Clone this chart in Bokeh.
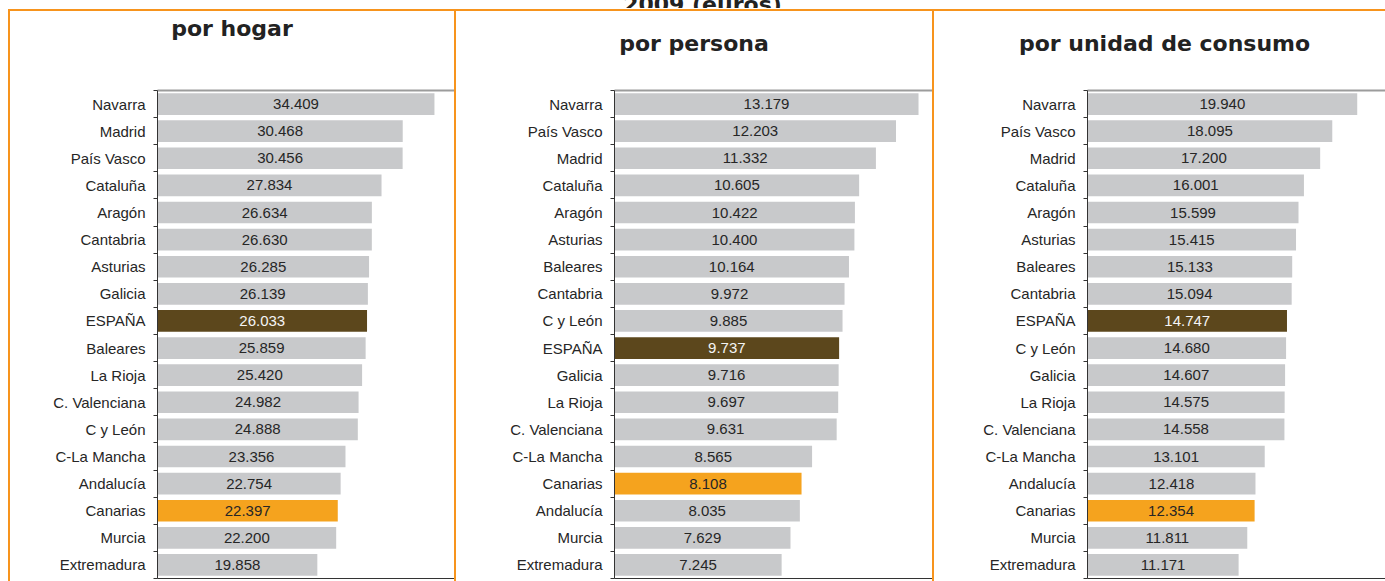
import numpy as np
from bokeh.plotting import figure
from bokeh.models import (ColumnDataSource, LinearAxis, FixedTicker, Range1d,
                          Div, Spacer)
from bokeh.layouts import row, column
from bokeh.embed import file_html
from bokeh.resources import INLINE
from bokeh.core.properties import value

# ---------------- data (top to bottom as in the chart) ----------------
hogar_regions = ["Navarra", "Madrid", "País Vasco", "Cataluña", "Aragón", "Cantabria",
                 "Asturias", "Galicia", "ESPAÑA", "Baleares", "La Rioja", "C. Valenciana",
                 "C y León", "C-La Mancha", "Andalucía", "Canarias", "Murcia", "Extremadura"]
hogar_values = [34409, 30468, 30456, 27834, 26634, 26630, 26285, 26139, 26033, 25859,
                25420, 24982, 24888, 23356, 22754, 22397, 22200, 19858]

persona_regions = ["Navarra", "País Vasco", "Madrid", "Cataluña", "Aragón", "Asturias",
                   "Baleares", "Cantabria", "C y León", "ESPAÑA", "Galicia", "La Rioja",
                   "C. Valenciana", "C-La Mancha", "Canarias", "Andalucía", "Murcia", "Extremadura"]
persona_values = [13179, 12203, 11332, 10605, 10422, 10400, 10164, 9972, 9885, 9737,
                  9716, 9697, 9631, 8565, 8108, 8035, 7629, 7245]

consumo_regions = ["Navarra", "País Vasco", "Madrid", "Cataluña", "Aragón", "Asturias",
                   "Baleares", "Cantabria", "ESPAÑA", "C y León", "Galicia", "La Rioja",
                   "C. Valenciana", "C-La Mancha", "Andalucía", "Canarias", "Murcia", "Extremadura"]
consumo_values = [19940, 18095, 17200, 16001, 15599, 15415, 15133, 15094, 14747, 14680,
                  14607, 14575, 14558, 13101, 12418, 12354, 11811, 11171]

panel_titles = ["por hogar", "por persona", "por unidad de consumo"]
main_title = "2009 (euros)"

GREY = "#C8C9CB"
SPAIN = "#5C471C"
CANARIAS = "#F5A31E"
ORANGE = "#F7941D"
AXIS = "#333333"
TITLE_H = 50


def make_panel(regions, values, width, left, x_end):
    n = len(regions)
    ypos = list(range(n, 0, -1))
    colors = [SPAIN if r == "ESPAÑA" else CANARIAS if r == "Canarias" else GREY for r in regions]
    tcolors = ["#F4F4F4" if r == "ESPAÑA" else "#262626" for r in regions]
    labels = [f"{v:,}".replace(",", ".") for v in values]
    src = ColumnDataSource(dict(y=ypos, v=values, half=[v / 2 for v in values],
                                c=colors, tc=tcolors, lab=labels))
    p = figure(width=width, height=570 - TITLE_H, output_backend="svg", toolbar_location=None,
               x_range=Range1d(0, x_end), y_range=Range1d(0.5, n + 0.5),
               min_border_left=left, min_border_right=0, min_border_top=79 - TITLE_H,
               min_border_bottom=3, x_axis_location=None, y_axis_location=None,
               outline_line_color=None, background_fill_color="white",
               border_fill_color="white", margin=0)
    p.grid.grid_line_color = None
    p.hbar(y="y", left=0, right="v", height=0.8, fill_color="c", line_color=None, source=src)
    p.text(x="half", y="y", text="lab", text_color="tc", text_align="center",
           text_baseline="middle", text_font=value("Liberation Sans"),
           text_font_size="15px", source=src)

    yaxis = LinearAxis(
        ticker=FixedTicker(ticks=ypos, minor_ticks=[k + 0.5 for k in range(n + 1)]),
        major_label_overrides={y: r for y, r in zip(ypos, regions)},
        major_tick_out=0, major_tick_in=0, minor_tick_out=4, minor_tick_in=0,
        minor_tick_line_color=AXIS, axis_line_color=AXIS,
        major_label_text_font="Liberation Sans", major_label_text_font_size="15px",
        major_label_text_color="#262626", major_label_standoff=8)
    p.add_layout(yaxis, "left")

    xaxis = LinearAxis(ticker=FixedTicker(ticks=[]), axis_line_color=AXIS,
                       major_tick_line_color=None, minor_tick_line_color=None,
                       major_tick_out=0, minor_tick_out=0, major_label_standoff=0,
                       major_label_text_font_size="0px")
    p.add_layout(xaxis, "below")

    top = LinearAxis(ticker=FixedTicker(ticks=[]), axis_line_color="#9C9C9C",
                     axis_line_width=2, major_tick_line_color=None,
                     minor_tick_line_color=None, major_tick_out=0, minor_tick_out=0,
                     major_label_standoff=0, major_label_text_font_size="0px")
    p.add_layout(top, "above")
    return p


def title_div(text, w, top, shift):
    html = (f'<div style="font-family:\'DejaVu Sans\';font-weight:bold;font-size:22px;'
            f'line-height:26px;color:#222222;text-align:center;margin:{top}px 0 0 0;'
            f'width:{w}px;box-sizing:border-box;padding-left:{shift}px;'
            f'white-space:nowrap;">{text}</div>')
    return Div(text=html, width=w, height=TITLE_H, margin=0)


def head_div(text, w):
    html = (f'<div style="font-family:\'DejaVu Sans\';font-weight:bold;font-size:22px;'
            f'line-height:26px;color:#222222;text-align:center;margin:-15px 0 0 0;'
            f'width:{w}px;box-sizing:border-box;padding-left:20px;'
            f'white-space:nowrap;">{text}</div>')
    return Div(text=html, width=w, height=8, margin=0, styles={"overflow": "hidden"})


def vstrip():
    return column(Spacer(width=2, height=1, margin=0),
                  Div(text="", width=2, height=572, margin=0,
                      styles={"background-color": ORANGE}),
                  spacing=0, margin=0)


def panel_col(p, w, title, top, shift):
    return column(Spacer(width=w, height=1, margin=0),
                  Div(text="", width=w, height=2, margin=0,
                      styles={"background-color": ORANGE}),
                  title_div(title, w, top, shift),
                  p, spacing=0, margin=0)


p1 = make_panel(hogar_regions, hogar_values, 444, 147, 36900)
p2 = make_panel(persona_regions, persona_values, 476, 158, 13785)
p3 = make_panel(consumo_regions, consumo_values, 451, 153, 22030)

panels = row(vstrip(), panel_col(p1, 444, panel_titles[0], 5, 0),
             vstrip(), panel_col(p2, 476, panel_titles[1], 20, 0),
             vstrip(), panel_col(p3, 451, panel_titles[2], 20, 10),
             spacing=0, margin=(0, 0, 0, 8))

layout = column(head_div(main_title, 1385), panels, spacing=0, margin=0)

with open("out.html", "w") as f:
    f.write(file_html(layout, INLINE))
